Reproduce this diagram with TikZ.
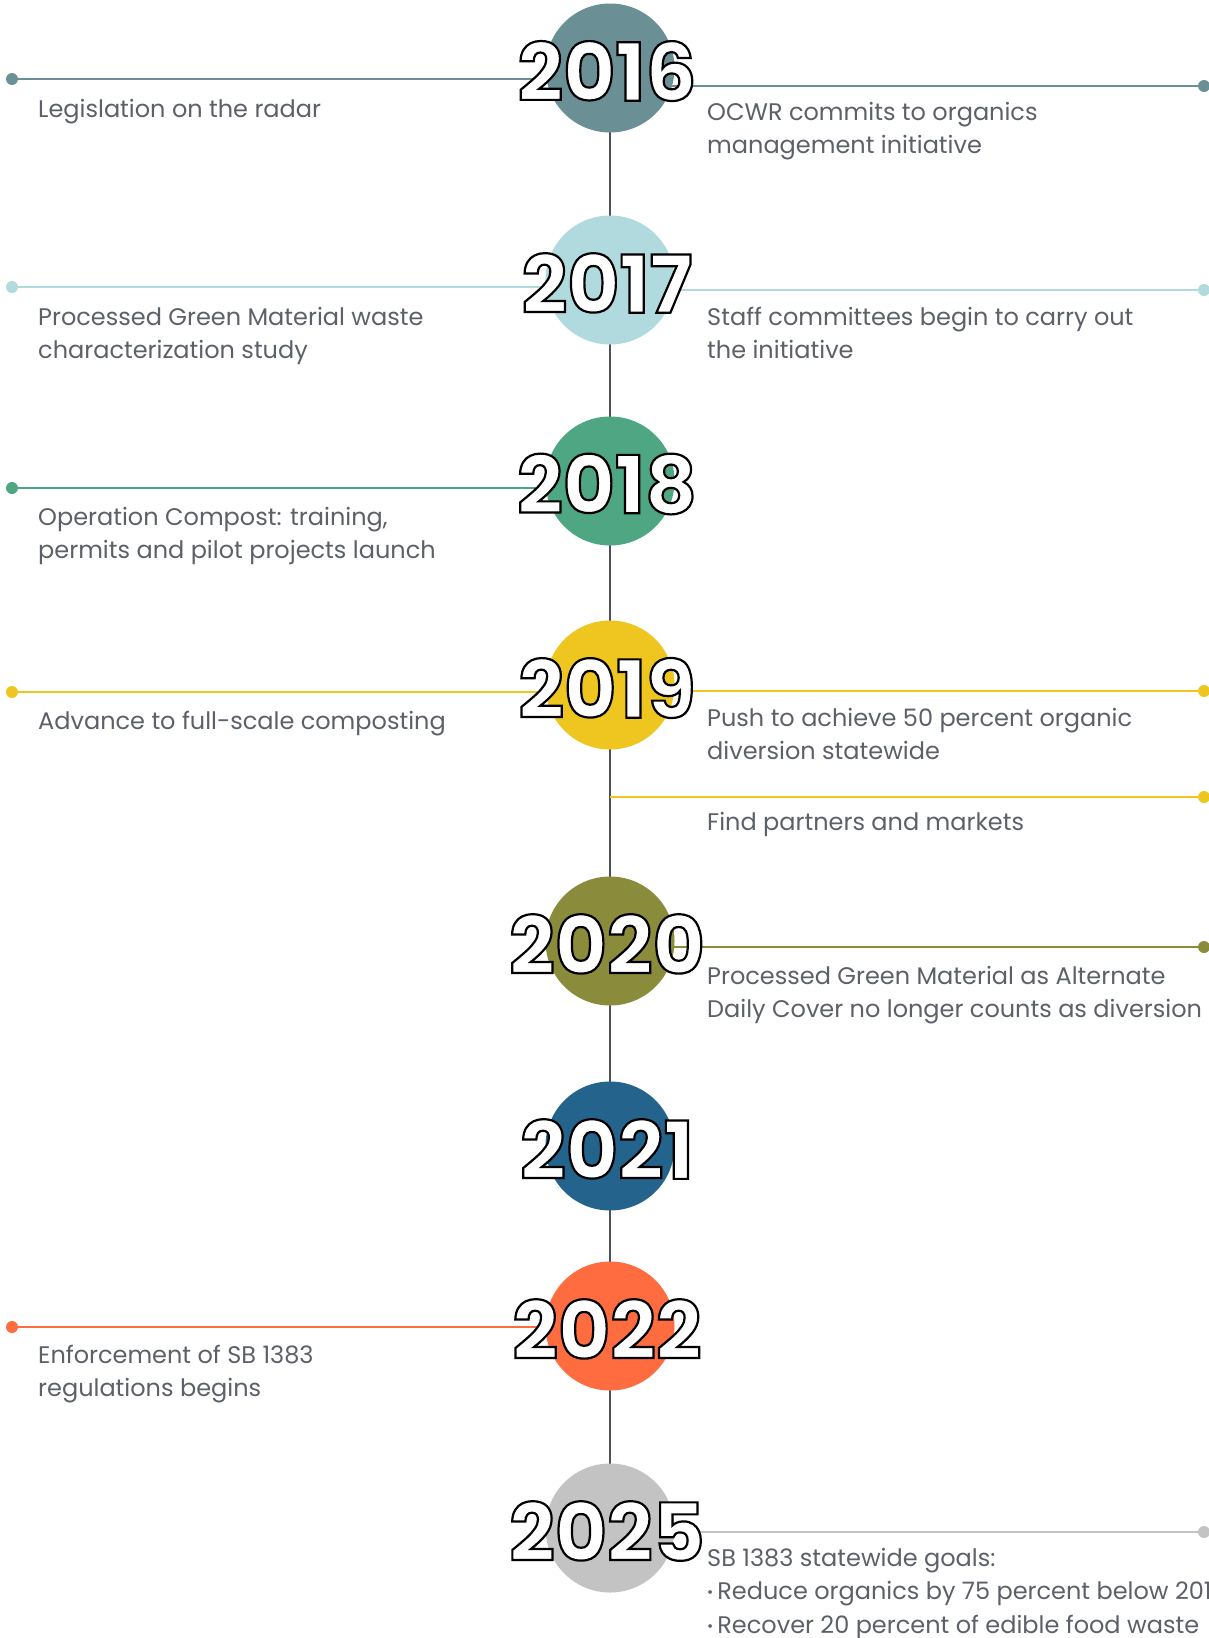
\documentclass[tikz,border=0pt]{standalone}
\usepackage{fontspec}
\setmainfont{Poppins}
\newfontfamily\yearfont{Poppins}
\usetikzlibrary{backgrounds}

% hollow numerals: white fill, black stroke
\newcommand\hollow[1]{\special{pdf:literal direct 2 Tr 2.2 w 1 1 1 rg 0 0 0 RG}#1\special{pdf:literal direct 0 Tr 0 g 0 G 1 w}}
% small bullet for list lines
\newcommand\dotitem{{\fontsize{15}{15}\selectfont\raisebox{2pt}{•}}\,}

\definecolor{c16}{HTML}{6A9095}
\definecolor{c17}{HTML}{B0DADD}
\definecolor{c18}{HTML}{4EA782}
\definecolor{c19}{HTML}{EFC520}
\definecolor{c20}{HTML}{8B8C3B}
\definecolor{c21}{HTML}{24648C}
\definecolor{c22}{HTML}{FF6C40}
\definecolor{c25}{HTML}{C3C3C3}
\definecolor{txtgrey}{HTML}{5C6068}
\definecolor{spinegrey}{HTML}{4E515A}

\begin{document}
\begin{tikzpicture}[x=1pt,y=-1pt,
  yearball/.style={circle, inner sep=0pt, minimum size=129pt},
  yr/.style={inner sep=0pt, font=\yearfont\bfseries\fontsize{80}{80}\selectfont},
  lbl/.style={anchor=base west, align=left, inner sep=0pt, text=txtgrey,
              font=\fontsize{24}{33.5}\selectfont},
  tick/.style={line width=2.5pt},
  pin/.style={circle, inner sep=0pt, minimum size=12pt},
  spine/.style={line width=2.5pt, spinegrey}
]
\useasboundingbox (0,0) rectangle (1209,1638);

% year discs
\node[yearball, fill=c16] (y16) at (610,68) {};
\node[yearball, fill=c17] (y17) at (610,280) {};
\node[yearball, fill=c18] (y18) at (610,481) {};
\node[yearball, fill=c19] (y19) at (610,685) {};
\node[yearball, fill=c20] (y20) at (610,941) {};
\node[yearball, fill=c21] (y21) at (610,1146) {};
\node[yearball, fill=c22] (y22) at (610,1326) {};
\node[yearball, fill=c25] (y25) at (610,1528) {};

% end dots
\node[pin, fill=c16] (p16l) at (12,79) {};
\node[pin, fill=c16] (p16r) at (1204,86) {};
\node[pin, fill=c17] (p17l) at (12,287) {};
\node[pin, fill=c17] (p17r) at (1204,290) {};
\node[pin, fill=c18] (p18l) at (12,488) {};
\node[pin, fill=c19] (p19l) at (12,692) {};
\node[pin, fill=c19] (p19r) at (1204,691) {};
\node[pin, fill=c19] (p19s) at (1204,797) {};
\node[pin, fill=c20] (p20r) at (1204,947) {};
\node[pin, fill=c22] (p22l) at (12,1327) {};
\node[pin, fill=c25] (p25r) at (1204,1532) {};

\begin{pgfonlayer}{background}
  \draw[spine] (y16.center) -- (y25.center);
  \draw[tick, c16] (p16l) -- (p16l -| y16.center);
  \draw[tick, c16] (p16r -| y16.center) -- (p16r);
  \draw[tick, c17] (p17l) -- (p17l -| y17.center);
  \draw[tick, c17] (p17r -| y17.center) -- (p17r);
  \draw[tick, c18] (p18l) -- (p18l -| y18.center);
  \draw[tick, c19] (p19l) -- (p19l -| y19.center);
  \draw[tick, c19] (p19r -| y19.center) -- (p19r);
  \draw[tick, c19] (p19s -| y19.center) -- (p19s);
  \draw[tick, c20] (p20r -| y20.center) -- (p20r);
  \draw[tick, c22] (p22l) -- (p22l -| y22.center);
  \draw[tick, c25] (p25r -| y25.center) -- (p25r);
\end{pgfonlayer}

% year numerals
\node[yr] (t16) at (607,71) {\hollow{2016}};
\node[yr] (t17) at (607,283) {\hollow{2017}};
\node[yr] (t18) at (607,484) {\hollow{2018}};
\node[yr] (t19) at (607,688) {\hollow{2019}};
\node[yr] (t20) at (607,944) {\hollow{2020}};
\node[yr] (t21) at (607,1149) {\hollow{2021}};
\node[yr] (t22) at (607,1329) {\hollow{2022}};
\node[yr] (t25) at (607,1531) {\hollow{2025}};

% captions (anchored at the baseline of their last line)
\node[lbl] (l16) at (38,117) {Legislation on the radar};
\node[lbl] (r16) at (707,153.5) {OCWR commits to organics\\management initiative};
\node[lbl] (l17) at (38,358.5) {Processed Green Material waste\\characterization study};
\node[lbl] (r17) at (707,358.5) {Staff committees begin to carry out\\the initiative};
\node[lbl] (l18) at (38,558.5) {Operation Compost: training,\\permits and pilot projects launch};
\node[lbl] (l19) at (38,729) {Advance to full-scale composting};
\node[lbl] (r19) at (707,759.5) {Push to achieve 50 percent organic\\diversion statewide};
\node[lbl] (r19s) at (707,830) {Find partners and markets};
\node[lbl] (r20) at (707,1017.5) {Processed Green Material as Alternate\\Daily Cover no longer counts as diversion};
\node[lbl] (l22) at (38,1396.5) {Enforcement of SB 1383\\regulations begins};
\node[lbl] (r25) at (707,1633) {SB 1383 statewide goals:\\%
  \dotitem Reduce organics by 75 percent below 2014\\%
  \dotitem Recover 20 percent of edible food waste};
\end{tikzpicture}
\end{document}
